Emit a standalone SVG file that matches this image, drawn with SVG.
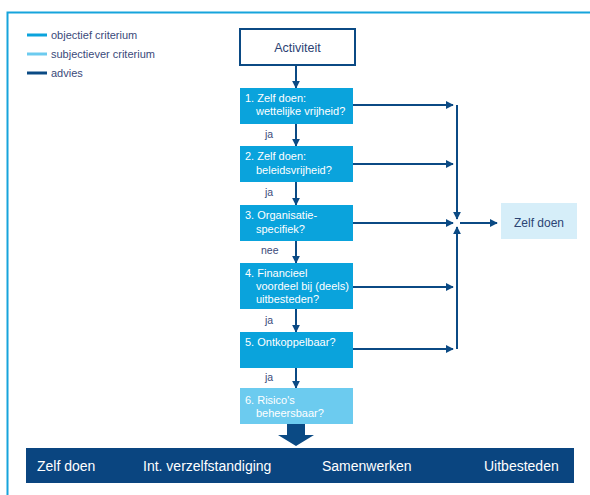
<svg xmlns="http://www.w3.org/2000/svg" width="590" height="495" viewBox="0 0 590 495">
<defs>
<style>
.t{font-family:"Liberation Sans",Arial,sans-serif}
.leg{font-size:11px;fill:#3a4a7a}
.lbl{font-size:10.5px;fill:#3a4a7a}
.bx{fill:#0aa3dc}
.bxt{font-size:11px;fill:#ffffff}
.con{stroke:#0b4a84;stroke-width:2;fill:none}
.bar{font-size:14px;fill:#ffffff}
</style>
<marker id="ah" viewBox="0 0 10 10" refX="9" refY="5" markerWidth="4" markerHeight="4" orient="auto" markerUnits="strokeWidth">
<path d="M0,0 L10,5 L0,10 z" fill="#0b4a84"/>
</marker>
</defs>
<rect width="590" height="495" fill="#ffffff"/>
<path d="M7.5,495 V12.5 H590" fill="none" stroke="#16a4dc" stroke-width="2"/>
<g id="legend" class="t">
<line x1="27" y1="35" x2="47" y2="35" stroke="#0aa3dc" stroke-width="3"/>
<text class="leg" x="51" y="39">objectief criterium</text>
<line x1="27" y1="54" x2="47" y2="54" stroke="#6ccbef" stroke-width="3"/>
<text class="leg" x="51" y="58">subjectiever criterium</text>
<line x1="27" y1="73" x2="47" y2="73" stroke="#0b4a84" stroke-width="3"/>
<text class="leg" x="51" y="77">advies</text>
</g>
<g id="connectors">
<line class="con" x1="296" y1="65" x2="296" y2="88" marker-end="url(#ah)"/>
<line class="con" x1="296" y1="124" x2="296" y2="146" marker-end="url(#ah)"/>
<line class="con" x1="296" y1="182" x2="296" y2="205" marker-end="url(#ah)"/>
<line class="con" x1="296" y1="241" x2="296" y2="263" marker-end="url(#ah)"/>
<line class="con" x1="296" y1="309" x2="296" y2="332" marker-end="url(#ah)"/>
<line class="con" x1="296" y1="368" x2="296" y2="388" marker-end="url(#ah)"/>
<line class="con" x1="353" y1="105" x2="453" y2="105" marker-end="url(#ah)"/>
<line class="con" x1="353" y1="164" x2="453" y2="164" marker-end="url(#ah)"/>
<line class="con" x1="353" y1="223" x2="453" y2="223" marker-end="url(#ah)"/>
<line class="con" x1="353" y1="287" x2="453" y2="287" marker-end="url(#ah)"/>
<line class="con" x1="353" y1="349" x2="453" y2="349" marker-end="url(#ah)"/>
<line class="con" x1="457" y1="105" x2="457" y2="219" marker-end="url(#ah)"/>
<line class="con" x1="457" y1="349" x2="457" y2="227" marker-end="url(#ah)"/>
<line class="con" x1="460" y1="223" x2="497" y2="223" marker-end="url(#ah)"/>
<path d="M287,424 H305 V435 H314 L296,446 L278,435 H287 Z" fill="#0b4a84"/>
<g class="t lbl">
<text x="265" y="138">ja</text>
<text x="265" y="196">ja</text>
<text x="261" y="254">nee</text>
<text x="265" y="324">ja</text>
<text x="265" y="381">ja</text>
</g>
</g>
<g id="activiteit" class="t">
<rect x="240" y="29" width="115" height="36" fill="#ffffff" stroke="#0b4a84" stroke-width="2"/>
<text x="297.5" y="51.5" font-size="12.5" fill="#2b3f73" text-anchor="middle">Activiteit</text>
</g>
<g id="q1" class="t">
<rect class="bx" x="240" y="88" width="113" height="36"/>
<text class="bxt" x="245" y="102">1. Zelf doen:</text>
<text class="bxt" x="256" y="115">wettelijke vrijheid?</text>
</g>
<g id="q2" class="t">
<rect class="bx" x="240" y="146" width="113" height="36"/>
<text class="bxt" x="245" y="160">2. Zelf doen:</text>
<text class="bxt" x="256" y="174">beleidsvrijheid?</text>
</g>
<g id="q3" class="t">
<rect class="bx" x="240" y="205" width="113" height="36"/>
<text class="bxt" x="245" y="219">3. Organisatie-</text>
<text class="bxt" x="256" y="233">specifiek?</text>
</g>
<g id="q4" class="t">
<rect class="bx" x="240" y="263" width="113" height="46"/>
<text class="bxt" x="245" y="277">4. Financieel</text>
<text class="bxt" x="256" y="290">voordeel bij (deels)</text>
<text class="bxt" x="256" y="303">uitbesteden?</text>
</g>
<g id="q5" class="t">
<rect class="bx" x="240" y="332" width="113" height="36"/>
<text class="bxt" x="245" y="346">5. Ontkoppelbaar?</text>
</g>
<g id="q6" class="t">
<rect x="240" y="388" width="113" height="36" fill="#6ccbef"/>
<text class="bxt" x="245" y="404">6. Risico's</text>
<text class="bxt" x="256" y="417">beheersbaar?</text>
</g>
<g id="zelfdoen" class="t">
<rect x="501" y="203" width="76" height="36" fill="#d6eef9"/>
<text x="539" y="227" font-size="12" fill="#2b4474" text-anchor="middle">Zelf doen</text>
</g>
<g id="uitkomst" class="t">
<rect x="26" y="448" width="548" height="35" fill="#0a4580"/>
<text class="bar" x="37" y="471">Zelf doen</text>
<text class="bar" x="143" y="471">Int. verzelfstandiging</text>
<text class="bar" x="322" y="471">Samenwerken</text>
<text class="bar" x="484" y="471">Uitbesteden</text>
</g>
</svg>
